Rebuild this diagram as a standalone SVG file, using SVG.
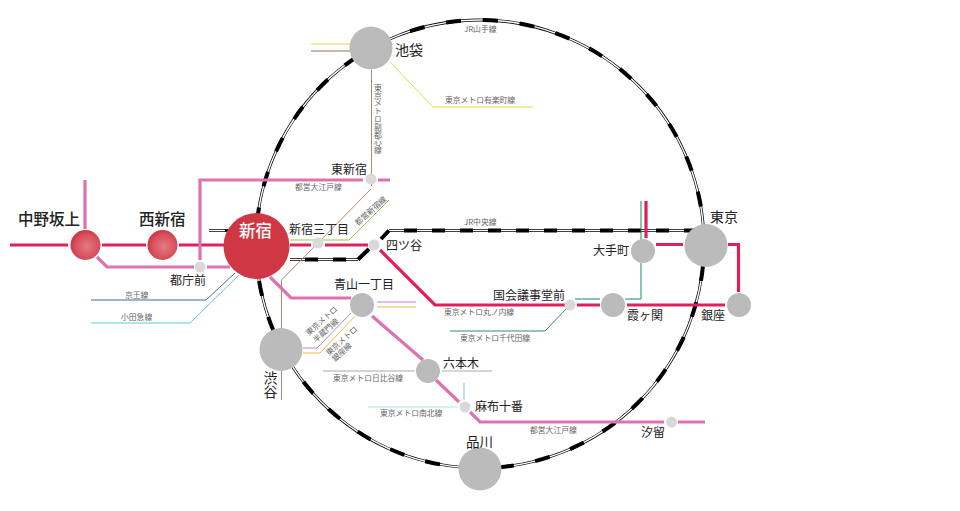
<svg xmlns="http://www.w3.org/2000/svg" width="960" height="511" viewBox="0 0 960 511">
<style>
.l{fill:none}
.rd{stroke:#e0205a;stroke-width:3.2}
.pk{stroke:#dd72ae;stroke-width:3.2}
.base{stroke:#000;stroke-width:2.800}
.top{stroke:#fff;stroke-width:1.400}
.blk{stroke:#000;stroke-width:4}
text{font-family:"Noto Sans CJK JP","Noto Sans",sans-serif;fill:#222}
.st{font-size:12px}
.big{font-size:15.500px;fill:#222;font-weight:500}
.ln{font-size:7.800px;fill:#666}
.v{writing-mode:vertical-rl;text-orientation:upright}
.g{fill:#bbb}
.s{fill:#d9d9d9}
</style>
<defs>
<radialGradient id="rg" cx="0.55" cy="0.55" r="0.55"><stop offset="0" stop-color="#e27a85"/><stop offset="0.7" stop-color="#d9505c"/><stop offset="1" stop-color="#cc3643"/></radialGradient>
</defs>
<g id="connectors">
<circle class="l base" cx="480" cy="244" r="224"/>
<circle class="l top" cx="480" cy="244" r="224" stroke-dasharray="22 15"/>
<circle class="l blk" cx="480" cy="244" r="224" stroke-dasharray="15 22" stroke-dashoffset="-22"/>
<path class="l base" d="M209 230.500H232"/>
<path class="l top" d="M209 230.500H225"/>
<path class="l base" d="M290 259.500H358M389 230.500H695"/>
<path class="l top" stroke-dasharray="15 13" d="M290 259.500H358M389 230.500H695"/>
<path class="l blk" stroke-dasharray="13 15" stroke-dashoffset="-15" d="M290 259.500H358M389 230.500H695"/>
<path class="l blk" d="M358 259.500L369 249M381 239L389 230.500"/>
<path class="l rd" d="M10 245H68M102 245H146M179 245H226M290 245H311M325 245H368"/>
<path class="l rd" d="M380 250L435 305H566M577 305H600M627 305H725"/>
<path class="l rd" d="M646 201V238M656 244.500H683M728 244.500H738.500V292"/>
<path class="l pk" d="M85 180V229M97 257L107 267H194M207 267H230"/>
<path class="l pk" d="M200 260V180H363M378 180H390"/>
<path class="l pk" d="M270 277L291 298H351M372 316L423 360M436 380L459 402M470 412L480 422H664M678 422H705"/>
<path class="l" stroke="#1e8a5a" stroke-width="1" d="M641 201V244M641 263V299H625M600 299H575"/>
<path class="l" stroke="#3c8a5e" stroke-width="1" d="M450 331H545L567 308"/>
<path class="l" stroke="#46679e" stroke-width="1" d="M91 300H206L235 273"/>
<path class="l" stroke="#5cc9e0" stroke-width="1" d="M91 323H190L239 275"/>
<path class="l" stroke="#a98a74" stroke-width="1" d="M371.500 70V186M371 189L281.500 280V400"/>
<path class="l" stroke="#8f7160" stroke-width="1" d="M311 51H350"/>
<path class="l" stroke="#e6dc3c" stroke-width="1" d="M311 44H350M390 62L433 107H533"/>
<path class="l" stroke="#9bc53d" stroke-width="1" d="M290 240H349L389 200"/>
<path class="l" stroke="#b58ac0" stroke-width="1" d="M303 348H317L351 313M377 302H416"/>
<path class="l" stroke="#eebc3c" stroke-width="1" d="M303 353H320L355 316M377 307H416"/>
<path class="l" stroke="#aaa" stroke-width="1" d="M323 371H415M442 371H492"/>
<path class="l" stroke="#b5e5e0" stroke-width="1" d="M368 407H458"/>
<path class="l" stroke="#7cc7d0" stroke-width="1" d="M464 383V400"/>
</g>
<g id="n-nakano"><circle cx="85.500" cy="245" r="15" fill="url(#rg)"/><text class="big" x="18" y="225">中野坂上</text></g>
<g id="n-nishi"><circle cx="162.500" cy="245" r="15" fill="url(#rg)"/><text class="big" x="139" y="225">西新宿</text></g>
<g id="n-shinjuku"><circle cx="256.500" cy="246" r="33" fill="#cf3744"/><text x="239" y="237" font-size="16.500" font-weight="500" style="fill:#fff">新宿</text></g>
<g id="n-tocho"><circle cx="200" cy="267" r="5.500" class="s"/><text class="st" x="170" y="285">都庁前</text></g>
<g id="n-ikebukuro"><circle cx="371" cy="48" r="21.500" class="g"/><text x="395" y="55" font-size="14">池袋</text></g>
<g id="n-higashi"><circle cx="371" cy="179" r="5.500" class="s"/><text class="st" x="331" y="174">東新宿</text></g>
<g id="n-sanchome"><circle cx="318" cy="243" r="5.500" class="s"/><text class="st" x="289" y="234">新宿三丁目</text></g>
<g id="n-yotsuya"><circle cx="374" cy="245" r="5.500" class="s"/><text class="st" x="386" y="250">四ツ谷</text></g>
<g id="n-aoyama"><circle cx="362" cy="305" r="12" class="g"/><text class="st" x="334" y="289">青山一丁目</text></g>
<g id="n-shibuya"><circle cx="281" cy="349.500" r="21.500" class="g"/><text class="v" x="270.500" y="371" font-size="14">渋谷</text></g>
<g id="n-roppongi"><circle cx="428" cy="371" r="12" class="g"/><text class="st" x="443" y="368">六本木</text></g>
<g id="n-azabu"><circle cx="465" cy="407" r="5.500" class="s"/><text class="st" x="475" y="411">麻布十番</text></g>
<g id="n-shinagawa"><circle cx="480" cy="469" r="21.500" class="g"/><text x="466" y="447" font-size="13.500">品川</text></g>
<g id="n-shiodome"><circle cx="671.500" cy="422" r="5.500" class="s"/><text class="st" x="641" y="437">汐留</text></g>
<g id="n-kokkai"><circle cx="570" cy="305" r="5.500" class="s"/><text class="st" x="493" y="300">国会議事堂前</text></g>
<g id="n-kasumi"><circle cx="613" cy="305" r="12" class="g"/><text class="st" x="627" y="320">霞ヶ関</text></g>
<g id="n-otemachi"><circle cx="643" cy="251" r="12" class="g"/><text class="st" x="593" y="255">大手町</text></g>
<g id="n-tokyo"><circle cx="706" cy="245.500" r="21.500" class="g"/><text x="710" y="222" font-size="14">東京</text></g>
<g id="n-ginza"><circle cx="739" cy="305" r="12" class="g"/><text class="st" x="701" y="320">銀座</text></g>
<g id="labels">
<text class="ln" x="464" y="32">JR山手線</text>
<text class="ln" x="445" y="103">東京メトロ有楽町線</text>
<text class="ln v" x="378" y="84">東京メトロ副都心線</text>
<text class="ln" x="295" y="190">都営大江戸線</text>
<text class="ln" transform="translate(358 226) rotate(-42)">都営新宿線</text>
<text class="ln" x="464" y="225">JR中央線</text>
<text class="ln" x="125" y="298">京王線</text>
<text class="ln" x="121" y="320">小田急線</text>
<text class="ln" x="444" y="315">東京メトロ丸ノ内線</text>
<text class="ln" x="460" y="341">東京メトロ千代田線</text>
<text class="ln" transform="translate(309 336) rotate(-42)">東京メトロ</text>
<text class="ln" transform="translate(316 343) rotate(-42)">半蔵門線</text>
<text class="ln" transform="translate(329 356) rotate(-42)">東京メトロ</text>
<text class="ln" transform="translate(335 362) rotate(-42)">銀座線</text>
<text class="ln" x="333" y="381">東京メトロ日比谷線</text>
<text class="ln" x="380" y="416">東京メトロ南北線</text>
<text class="ln" x="530" y="433">都営大江戸線</text>
</g>
</svg>
